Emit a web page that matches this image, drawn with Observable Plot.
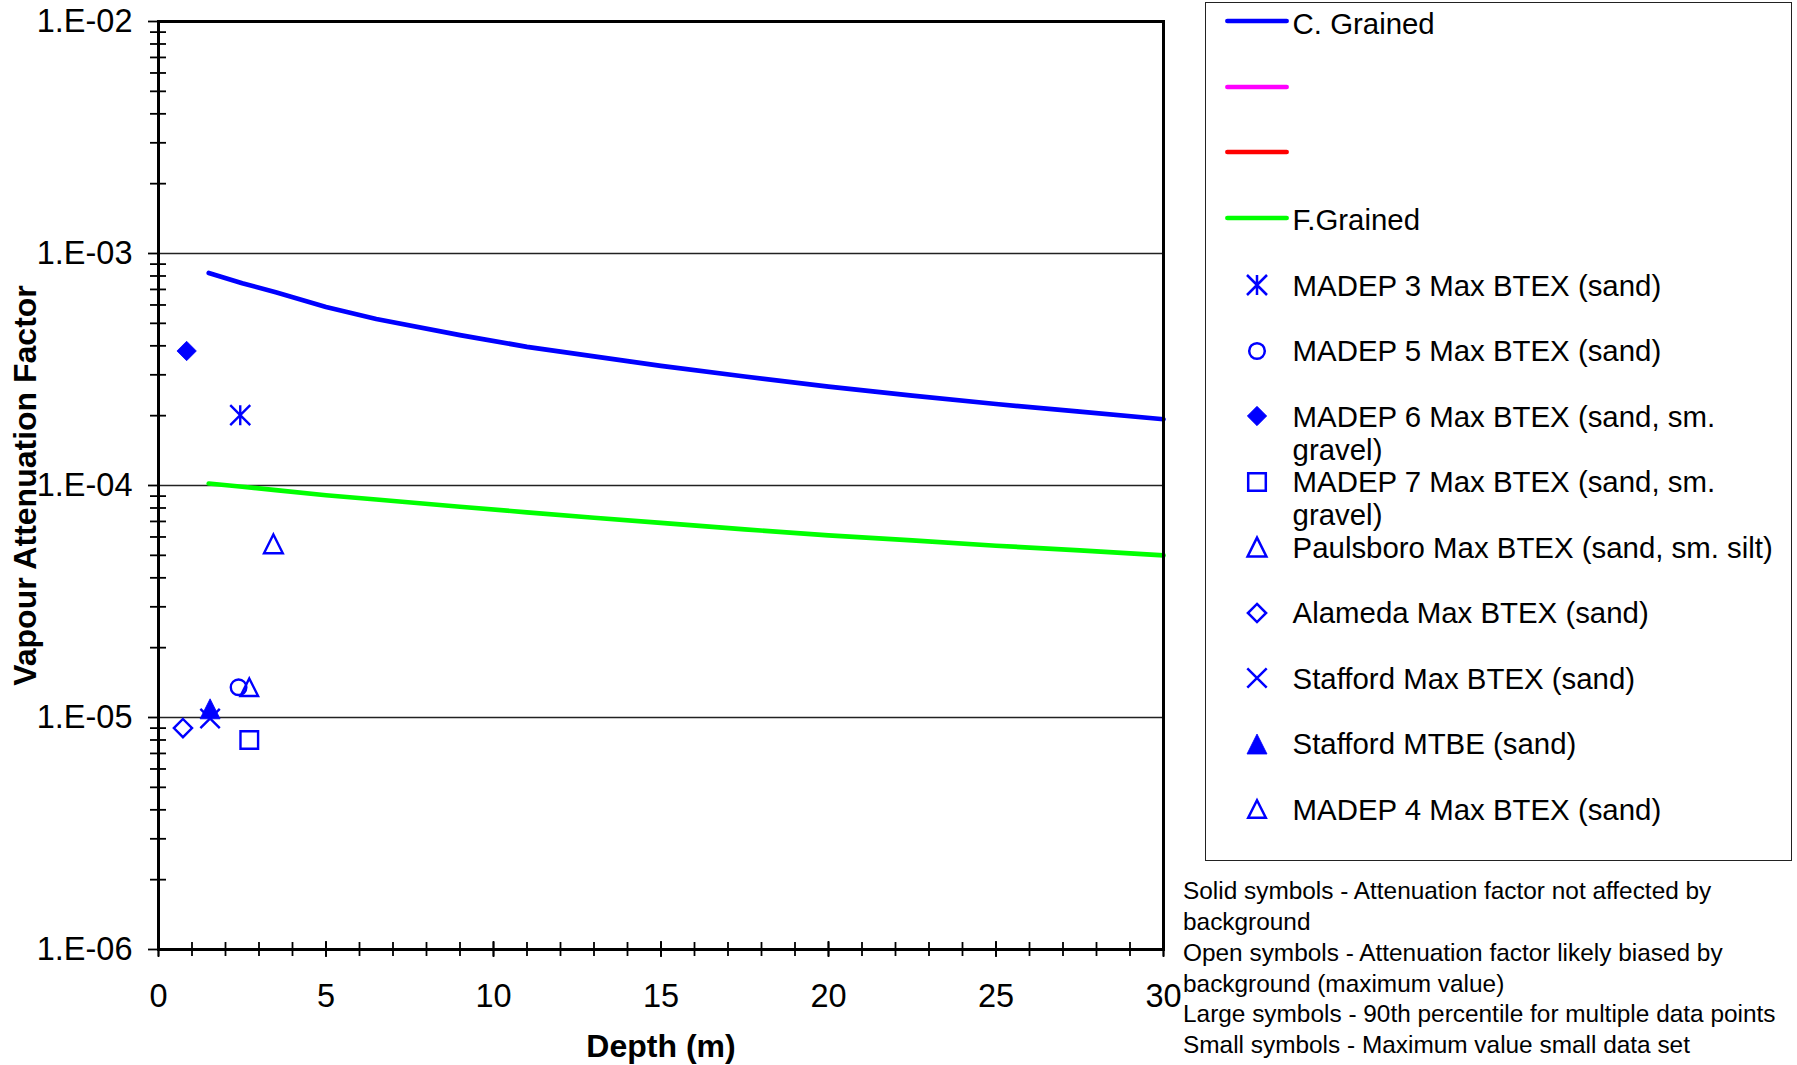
<!DOCTYPE html>
<html>
<head>
<meta charset="utf-8">
<script src="https://cdn.jsdelivr.net/npm/d3@7"></script>
<script src="https://cdn.jsdelivr.net/npm/@observablehq/plot@0.6"></script>
<style>
  html, body { margin: 0; padding: 0; background: #fff; }
  #wrap { position: relative; width: 1797px; height: 1065px; overflow: hidden; background: #fff;
          font-family: "Liberation Sans", Arial, sans-serif; color: #000; }
  #chart { position: absolute; left: 0; top: 0; }
  #legendBox { position: absolute; left: 1205px; top: 2px; width: 585px; height: 857px; border: 1.3px solid #222; }
  .ltext { position: absolute; font-size: 29.4px; line-height: 33px; white-space: nowrap; }
  .lsw { position: absolute; overflow: visible; }
  #notes { position: absolute; left: 1183px; top: 876.4px; font-size: 24.4px; line-height: 30.7px; white-space: nowrap; }
</style>
</head>
<body>
<div id="wrap">
  <div id="chart"></div>
  <div id="legendBox"></div>
  <div id="notes"></div>
</div>
<script>
// ---------------- data ----------------
const depthCurve = [1.5, 2.5, 3.5, 5, 6.5, 9, 11, 13, 15, 17.5, 20, 22.5, 25, 27.5, 30];
const coarseGrained = [8.25e-4, 7.45e-4, 6.8e-4, 5.88e-4, 5.22e-4, 4.45e-4, 3.96e-4, 3.6e-4, 3.28e-4, 2.95e-4, 2.67e-4, 2.44e-4, 2.245e-4, 2.08e-4, 1.93e-4];
const fineGrained = [1.02e-4, 9.88e-5, 9.55e-5, 9.08e-5, 8.7e-5, 8.1e-5, 7.66e-5, 7.26e-5, 6.9e-5, 6.47e-5, 6.1e-5, 5.8e-5, 5.5e-5, 5.25e-5, 5.0e-5];

const pointSeries = [
  "MADEP 3 Max BTEX (sand)",
  "MADEP 5 Max BTEX (sand)",
  "MADEP 6 Max BTEX (sand, sm. gravel)",
  "MADEP 7 Max BTEX (sand, sm. gravel)",
  "Paulsboro Max BTEX (sand, sm. silt)",
  "Alameda Max BTEX (sand)",
  "Stafford Max BTEX (sand)",
  "Stafford MTBE (sand)",
  "MADEP 4 Max BTEX (sand)"
];
const pointDepth = [2.44, 2.39, 0.84, 2.71, 3.43, 0.73, 1.54, 1.54, 2.71];
const pointFactor = [2.01e-4, 1.35e-5, 3.8e-4, 8.0e-6, 5.6e-5, 9.0e-6, 9.9e-6, 1.09e-5, 1.35e-5];

const lineSeries = ["C. Grained", "", "", "F.Grained"];
const legendMarkerLabels = [
  "MADEP 3 Max BTEX (sand)",
  "MADEP 5 Max BTEX (sand)",
  "MADEP 6 Max BTEX (sand, sm.\ngravel)",
  "MADEP 7 Max BTEX (sand, sm.\ngravel)",
  "Paulsboro Max BTEX (sand, sm. silt)",
  "Alameda Max BTEX (sand)",
  "Stafford Max BTEX (sand)",
  "Stafford MTBE (sand)",
  "MADEP 4 Max BTEX (sand)"
];
const notesLines = [
  "Solid symbols - Attenuation factor not affected by",
  "background",
  "Open symbols - Attenuation factor likely biased by",
  "background (maximum value)",
  "Large symbols - 90th percentile for multiple data points",
  "Small symbols - Maximum value small data set"
];

const yDecades = [1e-2, 1e-3, 1e-4, 1e-5, 1e-6];
const yGrid = [1e-3, 1e-4, 1e-5];
const xMajor = [0, 5, 10, 15, 20, 25, 30];
const xMinor = d3.range(0, 31);
const yMinor = yDecades.slice(1).flatMap(d => [2, 3, 4, 5, 6, 7, 8, 9].map(m => m * d));

// ---------------- styles ----------------
const BLUE = "#0000FF";
const lineColors = ["#0000FF", "#FF00FF", "#FF0000", "#00FF00"];

function mk(fn) { return { draw(ctx, size) { fn(ctx, Math.sqrt(size / Math.PI)); } }; }
const SYM = {
  asterisk: mk((c, r) => { c.moveTo(0, -r); c.lineTo(0, r); c.moveTo(-r, -r); c.lineTo(r, r); c.moveTo(-r, r); c.lineTo(r, -r); }),
  circle: mk((c, r) => { c.moveTo(r, 0); c.arc(0, 0, r, 0, 2 * Math.PI); }),
  diamond: mk((c, r) => { c.moveTo(0, -r); c.lineTo(r, 0); c.lineTo(0, r); c.lineTo(-r, 0); c.closePath(); }),
  square: mk((c, r) => { c.moveTo(-r, -r); c.lineTo(r, -r); c.lineTo(r, r); c.lineTo(-r, r); c.closePath(); }),
  triangle: mk((c, r) => { c.moveTo(0, -r); c.lineTo(r, r); c.lineTo(-r, r); c.closePath(); }),
  times: mk((c, r) => { c.moveTo(-r, -r); c.lineTo(r, r); c.moveTo(-r, r); c.lineTo(r, -r); })
};
const markerStyle = {
  "MADEP 3 Max BTEX (sand)":             { shape: "asterisk", r: 10,  filled: false },
  "MADEP 5 Max BTEX (sand)":             { shape: "circle",   r: 7.8, filled: false },
  "MADEP 6 Max BTEX (sand, sm. gravel)": { shape: "diamond",  r: 9.7, filled: true },
  "MADEP 7 Max BTEX (sand, sm. gravel)": { shape: "square",   r: 8.8, filled: false },
  "Paulsboro Max BTEX (sand, sm. silt)": { shape: "triangle", r: 9.4, filled: false },
  "Alameda Max BTEX (sand)":             { shape: "diamond",  r: 9.1, filled: false },
  "Stafford Max BTEX (sand)":            { shape: "times",    r: 9.7, filled: false },
  "Stafford MTBE (sand)":                { shape: "triangle", r: 10,  filled: true },
  "MADEP 4 Max BTEX (sand)":             { shape: "triangle", r: 8.8, filled: false }
};

// ---------------- build tables ----------------
const curves = [
  ...depthCurve.map((d, i) => ({ series: "C. Grained", depth: d, factor: coarseGrained[i] })),
  ...depthCurve.map((d, i) => ({ series: "F.Grained", depth: d, factor: fineGrained[i] }))
];
const points = pointSeries.map((s, i) => ({ series: s, depth: pointDepth[i], factor: pointFactor[i] }));
const fmtY = d => "1.E-" + String(Math.round(-Math.log10(d))).padStart(2, "0");
const blank = () => "";

const pointMarks = points.map(p => {
  const st = markerStyle[p.series];
  return Plot.dot([p], {
    x: "depth", y: "factor",
    symbol: SYM[st.shape], r: st.r,
    fill: st.filled ? BLUE : "none",
    stroke: BLUE,
    strokeWidth: st.filled ? 0.8 : 2.4
  });
});

const chart = Plot.plot({
  width: 1180,
  height: 1065,
  marginLeft: 158,
  marginRight: 17,
  marginTop: 21,
  marginBottom: 116,
  style: { fontFamily: "'Liberation Sans', Arial, sans-serif", fontSize: "32px", color: "#000", background: "#fff", overflow: "visible" },
  x: { domain: [0, 30], label: null },
  y: { type: "log", domain: [1e-6, 1e-2], label: null },
  marks: [
    Plot.ruleY(yGrid, { stroke: "#222", strokeWidth: 1.5 }),
    Plot.line(curves.filter(d => d.series === "C. Grained"), { x: "depth", y: "factor", stroke: lineColors[0], strokeWidth: 4.7, strokeLinecap: "round", strokeLinejoin: "round" }),
    Plot.line(curves.filter(d => d.series === "F.Grained"), { x: "depth", y: "factor", stroke: lineColors[3], strokeWidth: 4.7, strokeLinecap: "round", strokeLinejoin: "round" }),
    ...pointMarks,
    Plot.frame({ stroke: "#000", strokeWidth: 3 }),
    Plot.axisY(yMinor, { anchor: "left", tickSize: 16, dx: 8, tickFormat: blank, label: null, strokeWidth: 1.8 }),
    Plot.axisY(yDecades, { anchor: "left", tickSize: 10, tickPadding: 16, tickFormat: fmtY, label: null, strokeWidth: 1.8, fontSize: 32.5 }),
    Plot.axisX(xMinor, { anchor: "bottom", tickSize: 14, dy: -7, tickFormat: blank, label: null, strokeWidth: 1.8 }),
    Plot.axisX(xMajor, { anchor: "bottom", tickSize: 16, dy: -8, tickFormat: blank, label: null, strokeWidth: 1.8 }),
    Plot.axisX(xMajor, { anchor: "bottom", tickSize: 0, tickPadding: 34, tickFormat: d => String(d), label: null, fontSize: 32.5 }),
    Plot.text(["Vapour Attenuation Factor"], { frameAnchor: "left", dx: -133, rotate: -90, textAnchor: "middle", text: d => d, fontSize: 32, fontWeight: "bold", fill: "#000" }),
    Plot.text(["Depth (m)"], { frameAnchor: "bottom", dy: 97, textAnchor: "middle", text: d => d, fontSize: 32, fontWeight: "bold", fill: "#000", lineAnchor: "middle" })
  ]
});
document.getElementById("chart").appendChild(chart);

// ---------------- legend ----------------
const wrap = document.getElementById("wrap");
const rowY = i => 23 + i * 65.5;
const swX = 1256.6, textX = 1292.6;

function addText(label, cy) {
  const div = document.createElement("div");
  div.className = "ltext";
  div.style.left = textX + "px";
  div.style.top = (cy - 16.2) + "px";
  label.split("\n").forEach((ln, k) => {
    if (k) div.appendChild(document.createElement("br"));
    div.appendChild(document.createTextNode(ln));
  });
  wrap.appendChild(div);
}
const NS = "http://www.w3.org/2000/svg";
function addSvg(cx, cy, build) {
  const svg = document.createElementNS(NS, "svg");
  svg.setAttribute("class", "lsw");
  svg.setAttribute("width", 80); svg.setAttribute("height", 40);
  svg.style.left = (cx - 40) + "px"; svg.style.top = (cy - 20) + "px";
  build(svg);
  wrap.appendChild(svg);
}

lineSeries.forEach((name, i) => {
  const cy = rowY(i) - 1.8;
  addSvg(swX, cy, svg => {
    const l = document.createElementNS(NS, "line");
    l.setAttribute("x1", 40 - 29.6); l.setAttribute("x2", 40 + 29.6);
    l.setAttribute("y1", 20); l.setAttribute("y2", 20);
    l.setAttribute("stroke", lineColors[i]); l.setAttribute("stroke-width", 4.7);
    l.setAttribute("stroke-linecap", "round");
    svg.appendChild(l);
  });
  if (name) addText(name, rowY(i));
});

pointSeries.forEach((name, j) => {
  const i = j + lineSeries.length;
  const st = markerStyle[name];
  addSvg(swX, rowY(i), svg => {
    const p = document.createElementNS(NS, "path");
    p.setAttribute("d", d3.symbol(SYM[st.shape], Math.PI * st.r * st.r)());
    p.setAttribute("transform", "translate(40,20)");
    p.setAttribute("fill", st.filled ? BLUE : "none");
    p.setAttribute("stroke", BLUE);
    p.setAttribute("stroke-width", st.filled ? 0.8 : 2.5);
    svg.appendChild(p);
  });
  addText(legendMarkerLabels[j], rowY(i));
});

// ---------------- notes ----------------
const notes = document.getElementById("notes");
notesLines.forEach((ln, k) => {
  if (k) notes.appendChild(document.createElement("br"));
  notes.appendChild(document.createTextNode(ln));
});
</script>
</body>
</html>
